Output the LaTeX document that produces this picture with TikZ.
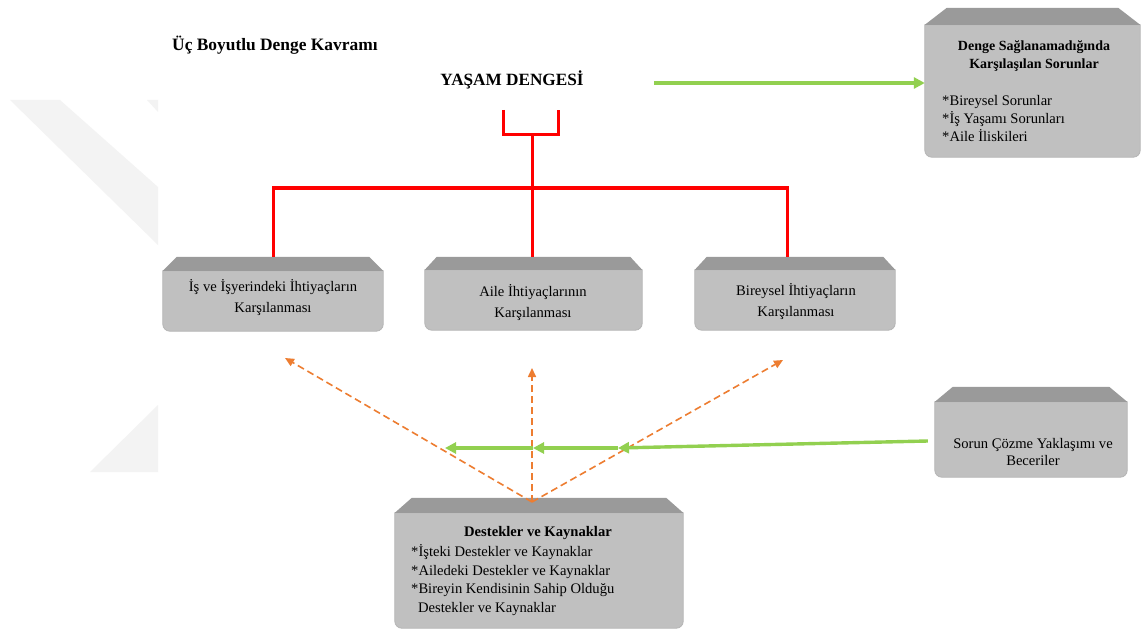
\documentclass[tikz,border=0pt]{standalone}
\usepackage{fontspec}
\setmainfont{Liberation Serif}
\usetikzlibrary{arrows.meta,backgrounds}
\definecolor{bodyc}{HTML}{C0C0C0}
\definecolor{stripc}{HTML}{9A9A9A}
\definecolor{edgec}{HTML}{B4B4B4}
\definecolor{grn}{HTML}{92D050}
\definecolor{org}{HTML}{ED7D31}
\definecolor{wm}{HTML}{F3F3F3}
\newcommand\bevelbox[3]{%
  \path[fill=bodyc, draw=edgec, line width=0.8pt] (#1.north west) [rounded corners=7pt] -- (#1.south west) -- (#1.south east) [sharp corners] -- (#1.north east) -- cycle;
  \path[fill=stripc] (#1.north west) -- ([xshift=#3,yshift=#2]#1.north west) -- ([xshift=-#3,yshift=#2]#1.north east) -- (#1.north east) -- cycle;
}
\tikzset{
  body/.style={rectangle, draw=none, inner sep=0pt},
  btext/.style={align=center, inner sep=0pt, font=\fontsize{14.6}{21}\selectfont},
  ltext/.style={align=left, inner sep=0pt, font=\fontsize{14.6}{18}\selectfont},
  redl/.style={draw=red, line width=3pt, line join=miter},
  grnarrow/.style={draw=grn, line width=3.4pt, -{Triangle[length=11pt,width=11pt]}},
  orgarrow/.style={draw=org, line width=1.6pt, dash pattern=on 7pt off 4pt, -{Triangle[length=9pt,width=8pt]}}
}
\begin{document}
\begin{tikzpicture}[x=1pt,y=-1pt]
\useasboundingbox (0,0) rectangle (1142,631);
% box bodies
\node[body, minimum width=220pt, minimum height=60pt] (b1) at (273,301) {};
\node[body, minimum width=217pt, minimum height=60pt] (b2) at (533.5,300) {};
\node[body, minimum width=200pt, minimum height=60pt] (b3) at (795,300) {};
\node[body, minimum width=215pt, minimum height=132pt] (denge) at (1032.5,91) {};
\node[body, minimum width=192pt, minimum height=75pt] (sorun) at (1031,439.5) {};
\node[body, minimum width=288pt, minimum height=115pt] (dk) at (539,570.5) {};
\begin{scope}[on background layer]
  \fill[white] (0,0) rectangle (1142,631);
  \fill[wm] (10,100) -- (60,100) -- (158,187) -- (158,245) -- cycle;
  \fill[wm] (147,100) -- (158,100) -- (158,112) -- cycle;
  \fill[wm] (90,472) -- (158,405) -- (158,472) -- cycle;
  \bevelbox{b1}{14pt}{14pt}
  \bevelbox{b2}{13pt}{12pt}
  \bevelbox{b3}{13pt}{12pt}
  \bevelbox{denge}{17pt}{22pt}
  \bevelbox{sorun}{15pt}{18pt}
  \bevelbox{dk}{15pt}{17pt}
\end{scope}
% texts
\node[anchor=west, inner sep=0pt, font=\bfseries\fontsize{17.4}{20}\selectfont] (title) at (172,45) {Üç Boyutlu Denge Kavramı};
\node[inner sep=0pt, font=\bfseries\fontsize{17.2}{20}\selectfont] (yasam) at (512,80) {YAŞAM DENGESİ};
\node[btext] (tb1) at (273,298) {İş ve İşyerindeki İhtiyaçların\\Karşılanması};
\node[btext] (tb2) at (533,303) {Aile İhtiyaçlarının\\Karşılanması};
\node[btext] (tb3) at (796,302) {Bireysel İhtiyaçların\\Karşılanması};
\node[btext, font=\bfseries\fontsize{14}{18}\selectfont] (tdh) at (1034,56) {Denge Sağlanamadığında\\Karşılaşılan Sorunlar};
\node[ltext, anchor=west] (tdl) at (942,119) {*Bireysel Sorunlar\\*İş Yaşamı Sorunları\\*Aile İliskileri};
\node[btext, font=\fontsize{14.6}{17}\selectfont] (ts) at (1033,452) {Sorun Çözme Yaklaşımı ve\\Beceriler};
\node[inner sep=0pt, font=\bfseries\fontsize{14.6}{18}\selectfont] (tkh) at (538,533) {Destekler ve Kaynaklar};
\node[ltext, font=\fontsize{14.6}{18.4}\selectfont, anchor=west] (tkl) at (411,580) {*İşteki Destekler ve Kaynaklar\\*Ailedeki Destekler ve Kaynaklar\\*Bireyin Kendisinin Sahip Olduğu\\\hspace*{7pt}Destekler ve Kaynaklar};
% red tree
\coordinate (ul) at (503,110);
\coordinate (ur) at (558,110);
\coordinate (stem) at (532,135);
\coordinate (hub) at (532,188);
\coordinate (b2top) at ([yshift=13pt]b2.north);
\draw[redl] (ul) |- (ur |- stem) -- (ur);
\draw[redl] (stem) -- (hub);
\draw[redl] (hub) -| ([yshift=14pt]b1.north);
\draw[redl] (hub) -- (hub |- b2top);
\draw[redl] (hub) -| ([xshift=-8pt,yshift=13pt]b3.north);
% orange dashed
\coordinate (src) at (532,502);
\coordinate (o1) at (285,358);
\coordinate (o2) at (532,368);
\coordinate (o3) at (783,360);
\draw[orgarrow] (src) -- (o1);
\draw[orgarrow] (src) -- (o2);
\draw[orgarrow] (src) -- (o3);
% green
\coordinate (gs) at (654,83);
\draw[grnarrow] (gs) -- (denge.west |- gs);
\coordinate (c1) at (618,448);
\coordinate (c2) at (533,448);
\coordinate (c3) at (445,448);
\draw[grnarrow] ([xshift=-7pt,yshift=-1.5pt]sorun.west) -- (c1);
\draw[grnarrow] (c1) -- (c2);
\draw[grnarrow] (c2) -- (c3);
\end{tikzpicture}
\end{document}
